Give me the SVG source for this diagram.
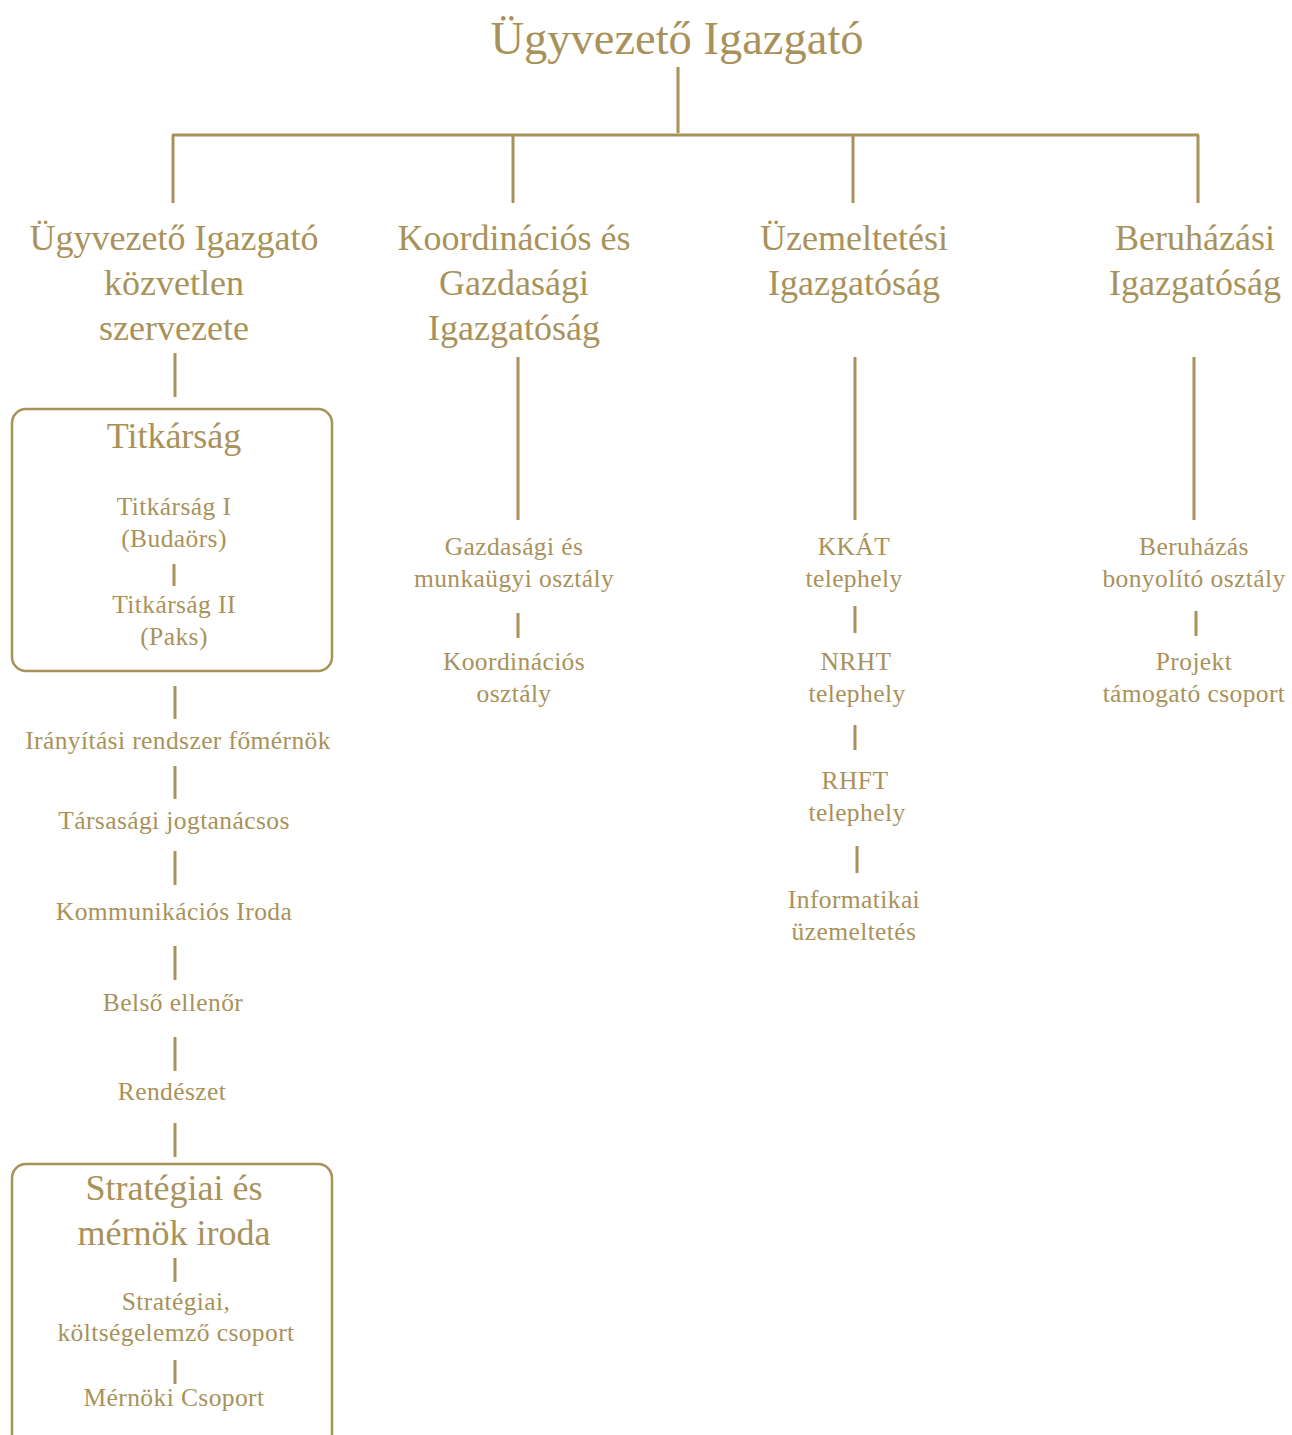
<svg xmlns="http://www.w3.org/2000/svg" width="1292" height="1435" viewBox="0 0 1292 1435">
<style>
text{font-family:"Liberation Serif","DejaVu Serif",serif;fill:#a8925a;text-anchor:middle}
.t0{font-size:46.5px}
.t1{font-size:36px}
.t2{font-size:25.5px;letter-spacing:0.4px}
.ln{stroke:#a8925a;stroke-width:3;fill:none}
.box{stroke:#a8925a;stroke-width:2.5;fill:none}
</style>
<rect width="1292" height="1435" fill="#ffffff"/>
<g id="connectors">
<path class="ln" d="M678 67V133 M172 135H1199 M173 135V203 M513 135V203 M853 135V203 M1198 135V203"/>
<path class="ln" d="M175 353V397 M174 564V586 M175 686V719 M175 766V799 M175 851V885 M175 946V980 M175 1037V1071 M175 1123V1157 M175 1258V1282 M175 1360V1384"/>
<path class="ln" d="M518 357V520 M518 613V638"/>
<path class="ln" d="M855 357V520 M855 606V633 M855 725V750 M857 846V873"/>
<path class="ln" d="M1194 357V520 M1196 611V636"/>
</g>
<g id="ceo"><text class="t0" x="677" y="54">Ügyvezető Igazgató</text></g>
<g id="col1"><text class="t1" x="174" y="250">Ügyvezető Igazgató</text><text class="t1" x="174" y="295">közvetlen</text><text class="t1" x="174" y="340">szervezete</text></g>
<g id="col2"><text class="t1" x="514" y="250">Koordinációs és</text><text class="t1" x="514" y="295">Gazdasági</text><text class="t1" x="514" y="340">Igazgatóság</text></g>
<g id="col3"><text class="t1" x="854" y="250">Üzemeltetési</text><text class="t1" x="854" y="295">Igazgatóság</text></g>
<g id="col4"><text class="t1" x="1195" y="250">Beruházási</text><text class="t1" x="1195" y="295">Igazgatóság</text></g>
<g id="titkarsag">
<rect class="box" x="12" y="409" width="320" height="262" rx="14"/>
<text class="t1" x="174" y="448">Titkárság</text>
<text class="t2" x="174" y="515">Titkárság I</text><text class="t2" x="174" y="547">(Budaörs)</text>
<text class="t2" x="174" y="613">Titkárság II</text><text class="t2" x="174" y="645">(Paks)</text>
</g>
<g id="iranyitasi"><text class="t2" x="178" y="749">Irányítási rendszer főmérnök</text></g>
<g id="jogtanacsos"><text class="t2" x="174" y="829">Társasági jogtanácsos</text></g>
<g id="kommunikacios"><text class="t2" x="174" y="920">Kommunikációs Iroda</text></g>
<g id="belso"><text class="t2" x="173" y="1011">Belső ellenőr</text></g>
<g id="rendeszet"><text class="t2" x="172" y="1100">Rendészet</text></g>
<g id="strategiai">
<rect class="box" x="12" y="1164" width="320" height="290" rx="14"/>
<text class="t1" x="174" y="1200">Stratégiai és</text><text class="t1" x="174" y="1245">mérnök iroda</text>
<text class="t2" x="176" y="1310">Stratégiai,</text><text class="t2" x="176" y="1341">költségelemző csoport</text>
<text class="t2" x="174" y="1406">Mérnöki Csoport</text>
</g>
<g id="gazdasagi"><text class="t2" x="514" y="555">Gazdasági és</text><text class="t2" x="514" y="587">munkaügyi osztály</text></g>
<g id="koordinacios"><text class="t2" x="514" y="670">Koordinációs</text><text class="t2" x="514" y="702">osztály</text></g>
<g id="kkat"><text class="t2" x="854" y="555">KKÁT</text><text class="t2" x="854" y="587">telephely</text></g>
<g id="nrht"><text class="t2" x="856" y="670">NRHT</text><text class="t2" x="857" y="702">telephely</text></g>
<g id="rhft"><text class="t2" x="855" y="789">RHFT</text><text class="t2" x="857" y="821">telephely</text></g>
<g id="informatikai"><text class="t2" x="854" y="908">Informatikai</text><text class="t2" x="854" y="940">üzemeltetés</text></g>
<g id="beruhazas"><text class="t2" x="1194" y="555">Beruházás</text><text class="t2" x="1194" y="587">bonyolító osztály</text></g>
<g id="projekt"><text class="t2" x="1194" y="670">Projekt</text><text class="t2" x="1194" y="702">támogató csoport</text></g>
</svg>
